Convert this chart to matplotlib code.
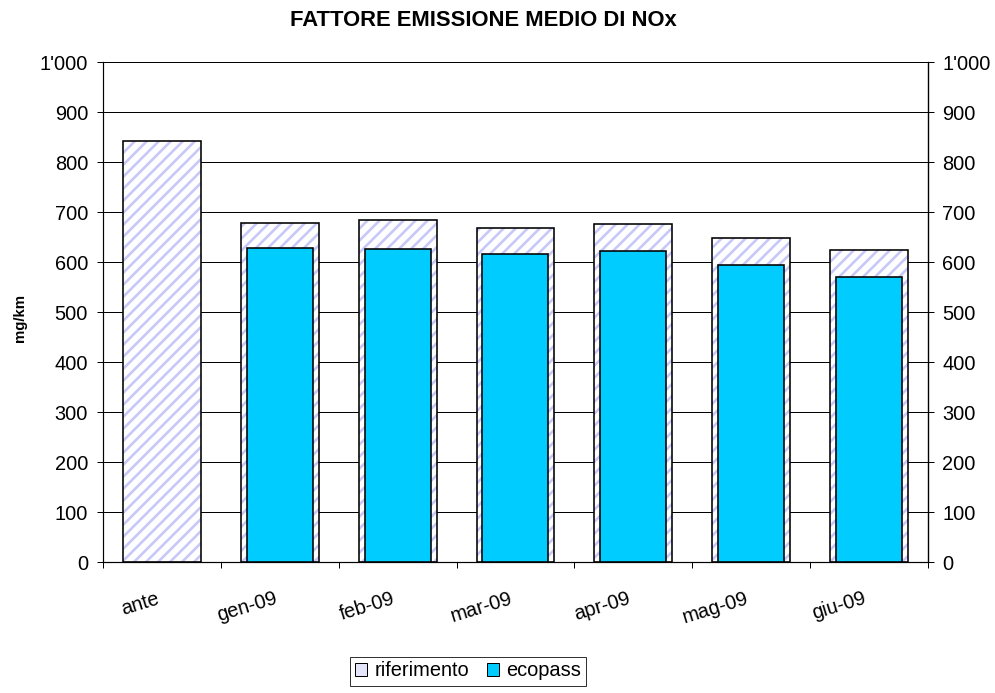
import matplotlib
matplotlib.use('Agg')
import matplotlib.pyplot as plt
import matplotlib.transforms as mtransforms
from matplotlib.patches import Patch
from matplotlib.ticker import FuncFormatter, MultipleLocator

plt.rcParams.update({
    'font.family': ['Liberation Sans', 'DejaVu Sans'],
    'hatch.linewidth': 2.6,
})

categories = ['ante', 'gen-09', 'feb-09', 'mar-09', 'apr-09', 'mag-09', 'giu-09']
riferimento = [843, 679, 684, 668, 676, 649, 625]
ecopass = [None, 629, 627, 616, 622, 595, 571]

HATCH = '#c8c8f8'
CYAN = '#00ccff'
FS = 20

DPI = 72
fig = plt.figure(figsize=(995 / DPI, 693 / DPI), dpi=DPI)
ax = fig.add_axes([103 / 995, 131 / 693, 825 / 995, 500 / 693])

x = list(range(len(categories)))
# hatched fill, then black outline on top
ax.bar(x, riferimento, width=0.66, color='white', edgecolor=HATCH,
       linewidth=0, hatch='//', zorder=2)
ax.bar(x, riferimento, width=0.66, fill=False, edgecolor='black',
       linewidth=1.6, zorder=2.5)
xe = [i for i, v in zip(x, ecopass) if v is not None]
ve = [v for v in ecopass if v is not None]
ax.bar(xe, ve, width=0.56, color=CYAN, edgecolor='black',
       linewidth=1.6, zorder=3)

ax.set_xlim(-0.5, len(categories) - 0.5)
ax.set_ylim(0, 1000)
ax.yaxis.set_major_locator(MultipleLocator(100))
fmt = FuncFormatter(lambda v, p: f"{int(v):,}".replace(',', "'"))
ax.yaxis.set_major_formatter(fmt)
ax.grid(axis='y', color='black', linewidth=1.0, zorder=0)
ax.set_axisbelow(True)

ax.spines['top'].set_visible(False)
for s in ['left', 'right', 'bottom']:
    ax.spines[s].set_linewidth(1.2)

ax.tick_params(axis='y', direction='inout', length=12, width=1.0,
               labelsize=FS, pad=9)
ax.set_xticks(x)
ax.set_xticks([i - 0.5 for i in range(len(categories) + 1)], minor=True)
ax.tick_params(axis='x', which='major', length=0, labelsize=FS, pad=27)
ax.tick_params(axis='x', which='minor', direction='out', length=6, width=1.0)
ax.set_xticklabels(categories, rotation=17, ha='right', rotation_mode='anchor')
shift = mtransforms.ScaledTranslation(-6 / 72, 0, fig.dpi_scale_trans)
for lbl in ax.get_xticklabels():
    lbl.set_transform(lbl.get_transform() + shift)

ax2 = ax.twinx()
ax2.set_ylim(0, 1000)
ax2.yaxis.set_major_locator(MultipleLocator(100))
ax2.yaxis.set_major_formatter(fmt)
ax2.tick_params(axis='y', direction='inout', length=12, width=1.0,
                labelsize=FS, pad=8)
for s in ['top', 'left', 'bottom']:
    ax2.spines[s].set_visible(False)
ax2.spines['right'].set_linewidth(1.2)

fig.text(20 / 995, 1 - 318 / 693, 'mg/km', rotation=90, ha='center', va='center',
         fontsize=15, fontweight='bold')
fig.text(483 / 995, 1 - 21 / 693, 'FATTORE EMISSIONE MEDIO DI NOx',
         ha='center', va='center', fontsize=22, fontweight='bold')

handles = [Patch(facecolor='#e4e4fa', edgecolor='black', label='riferimento'),
           Patch(facecolor=CYAN, edgecolor='black', label='ecopass')]
leg = fig.legend(handles=handles, loc='center', bbox_to_anchor=(468 / 995, 1 - 671 / 693),
                 ncol=2, frameon=True, fancybox=False, fontsize=FS,
                 handlelength=0.6, handleheight=0.6, handletextpad=0.35,
                 columnspacing=0.9, borderpad=0.25, borderaxespad=0)
leg.get_frame().set_edgecolor('black')
leg.get_frame().set_linewidth(1.0)

fig.savefig('out.png', dpi=DPI, facecolor='white')
